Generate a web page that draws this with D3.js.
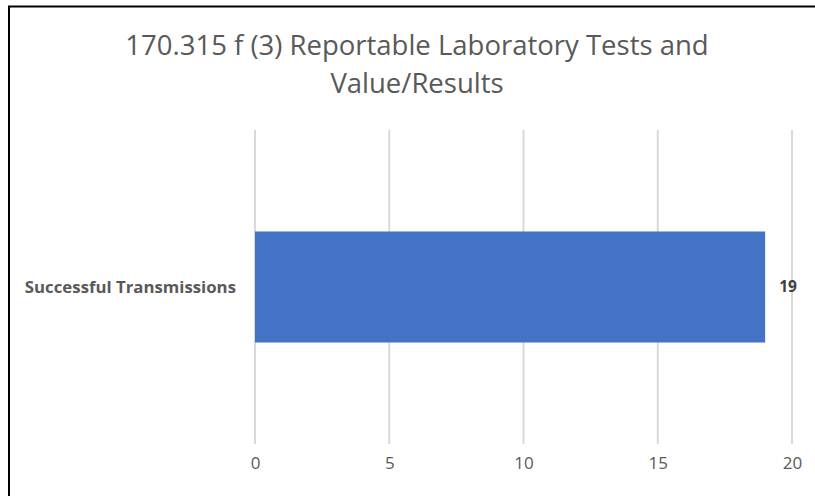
<!DOCTYPE html>
<html>
<head>
<meta charset="utf-8">
<script src="https://cdn.jsdelivr.net/npm/d3@7"></script>
<style>
  body { margin: 0; background: #fff; }
  text { font-family: "Open Sans", "Noto Sans", sans-serif; fill: #595959; }
</style>
</head>
<body>
<div id="chart"></div>
<script>
// chart values
var titleLines = ["170.315 f (3) Reportable Laboratory Tests and", "Value/Results"];
var categories = ["Successful Transmissions"];
var values = [19];
var xTicks = [0, 5, 10, 15, 20];

var width = 815,
    height = 496;
var margin = { top: 130, right: 23, bottom: 52, left: 255 };

var svg = d3.select("#chart")
  .append("svg")
    .attr("width", width)
    .attr("height", height);

// frame (left and top edges only)
svg.append("path")
  .attr("d", "M9,496 V6.5 H815")
  .attr("fill", "none")
  .attr("stroke", "#000")
  .attr("stroke-width", 2);

// title
svg.selectAll(".title")
  .data(titleLines)
  .enter()
    .append("text")
    .attr("class", "title")
    .attr("x", 417)
    .attr("y", function(d, i) { return 55 + i * 38; })
    .attr("text-anchor", "middle")
    .style("font-size", "27.5px")
    .text(function(d) { return d; });

var x = d3.scaleLinear()
  .domain([0, 20])
  .range([margin.left, width - margin.right]);

var y = d3.scaleBand()
  .domain(categories)
  .range([margin.top, height - margin.bottom])
  .paddingInner(0.5)
  .paddingOuter(0.457);

// gridlines
svg.selectAll(".grid")
  .data(xTicks)
  .enter()
    .append("line")
    .attr("class", "grid")
    .attr("x1", function(d) { return x(d); })
    .attr("x2", function(d) { return x(d); })
    .attr("y1", margin.top)
    .attr("y2", height - margin.bottom)
    .attr("stroke", "#d9d9d9")
    .attr("stroke-width", 2);

// bars
svg.selectAll(".bar")
  .data(values)
  .enter()
    .append("rect")
    .attr("class", "bar")
    .attr("x", x(0))
    .attr("y", function(d, i) { return y(categories[i]); })
    .attr("width", function(d) { return x(d) - x(0); })
    .attr("height", y.bandwidth())
    .attr("fill", "#4472c4");

// value labels
svg.selectAll(".val")
  .data(values)
  .enter()
    .append("text")
    .attr("class", "val")
    .attr("x", function(d) { return x(d) + 14; })
    .attr("y", function(d, i) { return y(categories[i]) + y.bandwidth() / 2; })
    .attr("dy", "0.35em")
    .style("font-size", "15.5px")
    .style("font-weight", "bold")
    .style("fill", "#404040")
    .text(function(d) { return d; });

// category axis labels
svg.selectAll(".cat")
  .data(categories)
  .enter()
    .append("text")
    .attr("class", "cat")
    .attr("x", 236)
    .attr("y", function(d) { return y(d) + y.bandwidth() / 2; })
    .attr("dy", "0.35em")
    .attr("text-anchor", "end")
    .style("font-size", "16.8px")
    .style("font-weight", "bold")
    .text(function(d) { return d; });

// bottom axis
var xAxis = d3.axisBottom(x)
  .tickValues(xTicks)
  .tickSize(0)
  .tickPadding(13);

var axisG = svg.append("g")
  .attr("transform", "translate(0," + (height - margin.bottom) + ")")
  .call(xAxis);
axisG.select(".domain").remove();
axisG.selectAll("text")
  .style("font-family", "'Open Sans', 'Noto Sans', sans-serif")
  .style("font-size", "17px")
  .style("fill", "#595959");
</script>
</body>
</html>
